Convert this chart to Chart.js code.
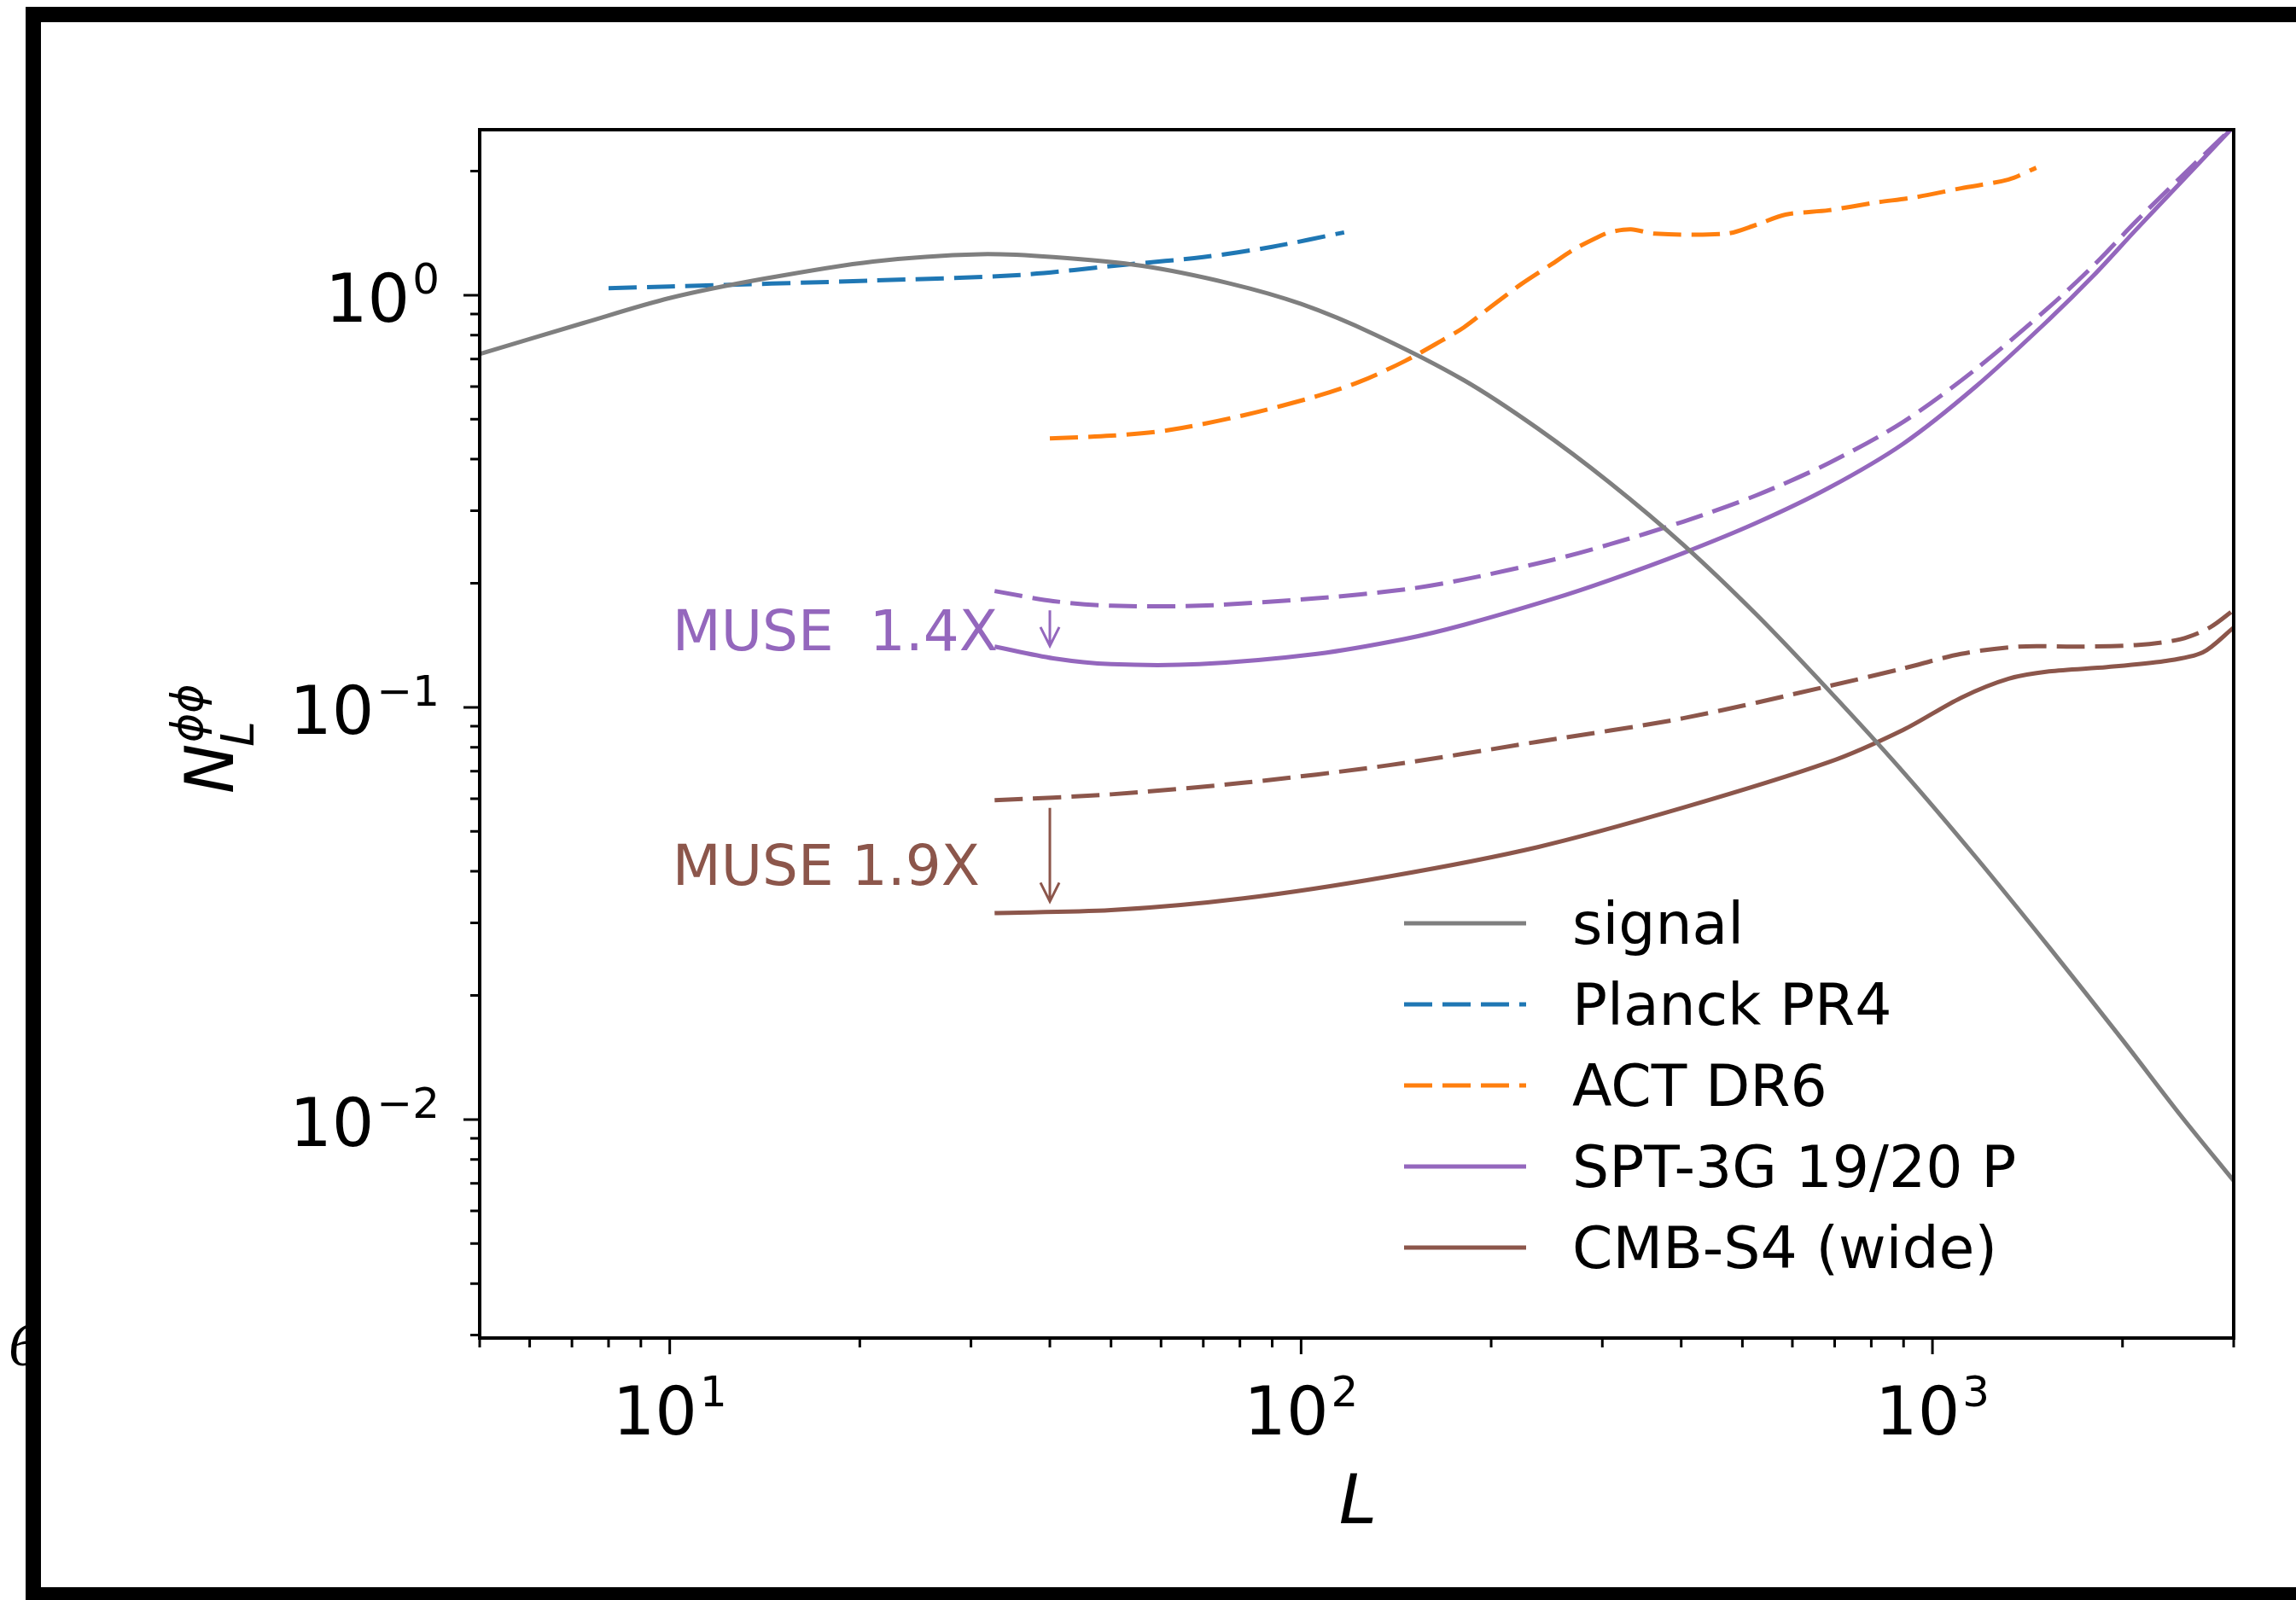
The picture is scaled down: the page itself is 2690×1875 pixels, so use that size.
<!DOCTYPE html>
<html>
<head>
<meta charset="utf-8">
<script src="https://cdn.jsdelivr.net/npm/chart.js@4.4.1/dist/chart.umd.min.js"></script>
<style>
  html, body { margin: 0; padding: 0; background: #fff; }
  #wrap { width: 2690px; height: 1875px; }
</style>
</head>
<body>
<div id="wrap"><canvas id="chart" width="2690" height="1875"></canvas></div>
<script>
// values (L, N_L^phiphi)
const signalL = [5, 7.3, 10, 14, 21, 31, 40.5, 56, 77, 100, 131, 181, 236, 308, 403, 526, 685, 898, 1170, 1530, 2000, 2470, 3000];
const signalN = [0.72, 0.856, 0.984, 1.094, 1.207, 1.257, 1.237, 1.178, 1.068, 0.952, 0.802, 0.622, 0.477, 0.351, 0.248, 0.168, 0.110, 0.0698, 0.0434, 0.0262, 0.0156, 0.01025, 0.0071];

const planckL = [8, 10, 21, 36, 53, 70, 90, 117];
const planckN = [1.04, 1.05, 1.085, 1.12, 1.187, 1.237, 1.31, 1.42];

const actL = [40, 50, 62, 81, 106, 124, 146, 167, 181, 201, 224, 249, 270, 293, 308, 333, 363, 472, 526, 585, 685, 806, 943, 1110, 1320, 1460];
const actN = [0.449, 0.456, 0.471, 0.511, 0.569, 0.617, 0.692, 0.776, 0.835, 0.944, 1.068, 1.187, 1.289, 1.376, 1.421, 1.445, 1.41, 1.41, 1.481, 1.568, 1.607, 1.674, 1.73, 1.817, 1.908, 2.037];

const sptL = [32.7, 40.5, 50, 69, 106, 146, 181, 249, 308, 403, 526, 685, 898, 1170, 1530, 1800, 2100, 2470, 3000];
const sptQeN = [0.1915, 0.181, 0.1764, 0.1764, 0.1839, 0.1932, 0.2042, 0.2275, 0.2485, 0.2822, 0.3268, 0.3913, 0.492, 0.6606, 0.9352, 1.181, 1.509, 1.929, 2.568];
const sptMuseN = [0.1404, 0.1315, 0.1273, 0.1273, 0.1348, 0.1465, 0.1585, 0.1827, 0.2035, 0.2368, 0.2801, 0.3406, 0.4356, 0.5994, 0.873, 1.116, 1.44, 1.873, 2.566];

const s4QeL = [32.7, 50, 81, 138, 237, 403, 685, 898, 1110, 1370, 1700, 2100, 2470, 2750, 3000];
const s4QeN = [0.0595, 0.0615, 0.0656, 0.0724, 0.0825, 0.0941, 0.1126, 0.1242, 0.1348, 0.1404, 0.1404, 0.1416, 0.1463, 0.1562, 0.1722];
const s4MuseL = [32.7, 50, 81, 138, 237, 403, 685, 898, 1110, 1320, 1530, 1890, 2330, 2680, 3000];
const s4MuseN = [0.0317, 0.0322, 0.0344, 0.0389, 0.0458, 0.0571, 0.0736, 0.0881, 0.1055, 0.1173, 0.1222, 0.1252, 0.1294, 0.1359, 0.1562];

const legendLabels = ['signal', 'Planck PR4', 'ACT DR6', 'SPT-3G 19/20 P', 'CMB-S4 (wide)'];
const xMajorTicks = [10, 100, 1000];
const xTickLabels = [['10', '1'], ['10', '2'], ['10', '3']];
const yMajorTicks = [0.01, 0.1, 1];
const yTickLabels = [['10', '\u22122'], ['10', '\u22121'], ['10', '0']];

const FONT = "'DejaVu Sans', sans-serif";
const GRAY = '#7f7f7f', BLUE = '#1f77b4', ORANGE = '#ff7f0e', PURPLE = '#9467bd', BROWN = '#8c564b';
const DASH = [33, 12];

const pts = (xs, ys) => xs.map((x, i) => ({ x, y: ys[i] }));

function line(label, xs, ys, color, dashed) {
  return {
    label,
    data: pts(xs, ys),
    borderColor: color,
    borderWidth: 5,
    borderDash: dashed ? DASH : [],
    borderCapStyle: 'butt',
    fill: false,
    pointRadius: 0,
    tension: 0.3,
  };
}

function drawPow(ctx, base, exp, x, y, size, align) {
  const supSize = size * 0.64;
  ctx.font = `${size}px ${FONT}`;
  const wb = ctx.measureText(base).width;
  ctx.font = `${supSize}px ${FONT}`;
  const we = ctx.measureText(exp).width;
  const total = wb + we + 3;
  const x0 = align === 'right' ? x - total : x - total / 2;
  ctx.textAlign = 'left';
  ctx.textBaseline = 'alphabetic';
  ctx.font = `${size}px ${FONT}`;
  ctx.fillText(base, x0, y);
  ctx.font = `${supSize}px ${FONT}`;
  ctx.fillText(exp, x0 + wb + 3, y - size * 0.42);
}

function minorTicks(min, max) {
  const out = [];
  for (let p = Math.floor(Math.log10(min)); p <= Math.ceil(Math.log10(max)); p++) {
    for (let m = 2; m <= 9; m++) {
      const v = m * Math.pow(10, p);
      if (v >= min && v <= max) out.push(v);
    }
  }
  return out;
}

function arrow(ctx, x, y1, y2, color) {
  ctx.save();
  ctx.strokeStyle = color;
  ctx.lineWidth = 3;
  ctx.beginPath();
  ctx.moveTo(x, y1);
  ctx.lineTo(x, y2);
  ctx.moveTo(x - 11, y2 - 22);
  ctx.lineTo(x, y2);
  ctx.lineTo(x + 11, y2 - 22);
  ctx.stroke();
  ctx.restore();
}

const decor = {
  id: 'decor',
  beforeDraw(chart) {
    const ctx = chart.ctx;
    ctx.save();
    ctx.fillStyle = '#fff';
    ctx.fillRect(0, 0, chart.width, chart.height);
    ctx.restore();
  },
  afterDatasetsDraw(chart) {
    const { ctx, scales: { x, y } } = chart;
    // MUSE improvement annotations
    ctx.save();
    ctx.font = `66px ${FONT}`;
    ctx.textAlign = 'left';
    ctx.textBaseline = 'alphabetic';
    ctx.fillStyle = PURPLE;
    ctx.fillText('MUSE  1.4X', x.getPixelForValue(10.1), y.getPixelForValue(0.1377));
    ctx.fillStyle = BROWN;
    ctx.fillText('MUSE 1.9X', x.getPixelForValue(10.1), y.getPixelForValue(0.0371));
    ctx.restore();
    arrow(ctx, x.getPixelForValue(40), y.getPixelForValue(0.172), y.getPixelForValue(0.141), PURPLE);
    arrow(ctx, x.getPixelForValue(40), y.getPixelForValue(0.057), y.getPixelForValue(0.0338), BROWN);
  },
  afterDraw(chart) {
    const { ctx, chartArea: a, scales: { x, y } } = chart;
    ctx.save();
    // frame
    ctx.strokeStyle = '#000';
    ctx.lineWidth = 4;
    ctx.strokeRect(a.left, a.top, a.right - a.left, a.bottom - a.top);

    // ticks
    ctx.lineWidth = 3;
    ctx.beginPath();
    xMajorTicks.forEach((v) => {
      const px = x.getPixelForValue(v);
      ctx.moveTo(px, a.bottom); ctx.lineTo(px, a.bottom + 19);
    });
    minorTicks(x.min, x.max).forEach((v) => {
      const px = x.getPixelForValue(v);
      ctx.moveTo(px, a.bottom); ctx.lineTo(px, a.bottom + 11);
    });
    yMajorTicks.forEach((v) => {
      const py = y.getPixelForValue(v);
      ctx.moveTo(a.left, py); ctx.lineTo(a.left - 19, py);
    });
    minorTicks(y.min, y.max).forEach((v) => {
      const py = y.getPixelForValue(v);
      ctx.moveTo(a.left, py); ctx.lineTo(a.left - 11, py);
    });
    ctx.stroke();

    // tick labels
    ctx.fillStyle = '#000';
    xMajorTicks.forEach((v, i) => {
      drawPow(ctx, xTickLabels[i][0], xTickLabels[i][1], x.getPixelForValue(v), a.bottom + 113, 78, 'center');
    });
    yMajorTicks.forEach((v, i) => {
      drawPow(ctx, yTickLabels[i][0], yTickLabels[i][1], a.left - 47, y.getPixelForValue(v) + 31, 78, 'right');
    });

    // axis labels
    ctx.textAlign = 'left';
    ctx.textBaseline = 'alphabetic';
    ctx.font = `italic 80px ${FONT}`;
    const lw = ctx.measureText('L').width;
    ctx.fillText('L', 1591 - lw / 2, 1785);

    ctx.save();
    ctx.translate(273, 930);
    ctx.rotate(-Math.PI / 2);
    ctx.font = `italic 78px ${FONT}`;
    ctx.fillText('N', 0, 0);
    ctx.font = `italic 54px ${FONT}`;
    ctx.fillText('L', 55, 24);
    ctx.font = `italic 52px ${FONT}`;
    ctx.fillText('\u03D5\u03D5', 60, -36);
    ctx.restore();

    // legend
    const colors = [GRAY, BLUE, ORANGE, PURPLE, BROWN];
    const dashed = [false, true, true, false, false];
    legendLabels.forEach((lab, i) => {
      const ly = 1082 + i * 95;
      ctx.save();
      ctx.strokeStyle = colors[i];
      ctx.lineWidth = 5;
      ctx.setLineDash(dashed[i] ? DASH : []);
      ctx.beginPath();
      ctx.moveTo(1645, ly);
      ctx.lineTo(1788, ly);
      ctx.stroke();
      ctx.restore();
      ctx.fillStyle = '#000';
      ctx.font = `68px ${FONT}`;
      ctx.textAlign = 'left';
      ctx.textBaseline = 'alphabetic';
      ctx.fillText(lab, 1842, ly + 24);
    });

    // stray glyph at the left edge and the rough outer border
    ctx.fillStyle = '#000';
    ctx.font = "italic 72px 'Liberation Serif', serif";
    ctx.fillText('6', 10, 1600);
    ctx.fillRect(30, 8, 18, chart.height - 8);
    ctx.fillRect(30, 8, chart.width - 30, 18);
    ctx.fillRect(30, 1860, chart.width - 30, 15);
    ctx.restore();
  },
};

new Chart(document.getElementById('chart'), {
  type: 'line',
  data: {
    datasets: [
      line('signal', signalL, signalN, GRAY, false),
      line('Planck PR4', planckL, planckN, BLUE, true),
      line('ACT DR6', actL, actN, ORANGE, true),
      line('SPT-3G 19/20 P', sptL, sptMuseN, PURPLE, false),
      line('SPT-3G QE', sptL, sptQeN, PURPLE, true),
      line('CMB-S4 (wide)', s4MuseL, s4MuseN, BROWN, false),
      line('CMB-S4 QE', s4QeL, s4QeN, BROWN, true),
    ],
  },
  options: {
    responsive: false,
    animation: false,
    devicePixelRatio: 1,
    layout: { padding: { left: 562, right: 73, top: 152, bottom: 307 } },
    plugins: { legend: { display: false }, tooltip: { enabled: false } },
    scales: {
      x: { type: 'logarithmic', min: 5, max: 3000, display: false },
      y: { type: 'logarithmic', min: 0.00295, max: 2.52, display: false },
    },
  },
  plugins: [decor],
});
</script>
</body>
</html>
